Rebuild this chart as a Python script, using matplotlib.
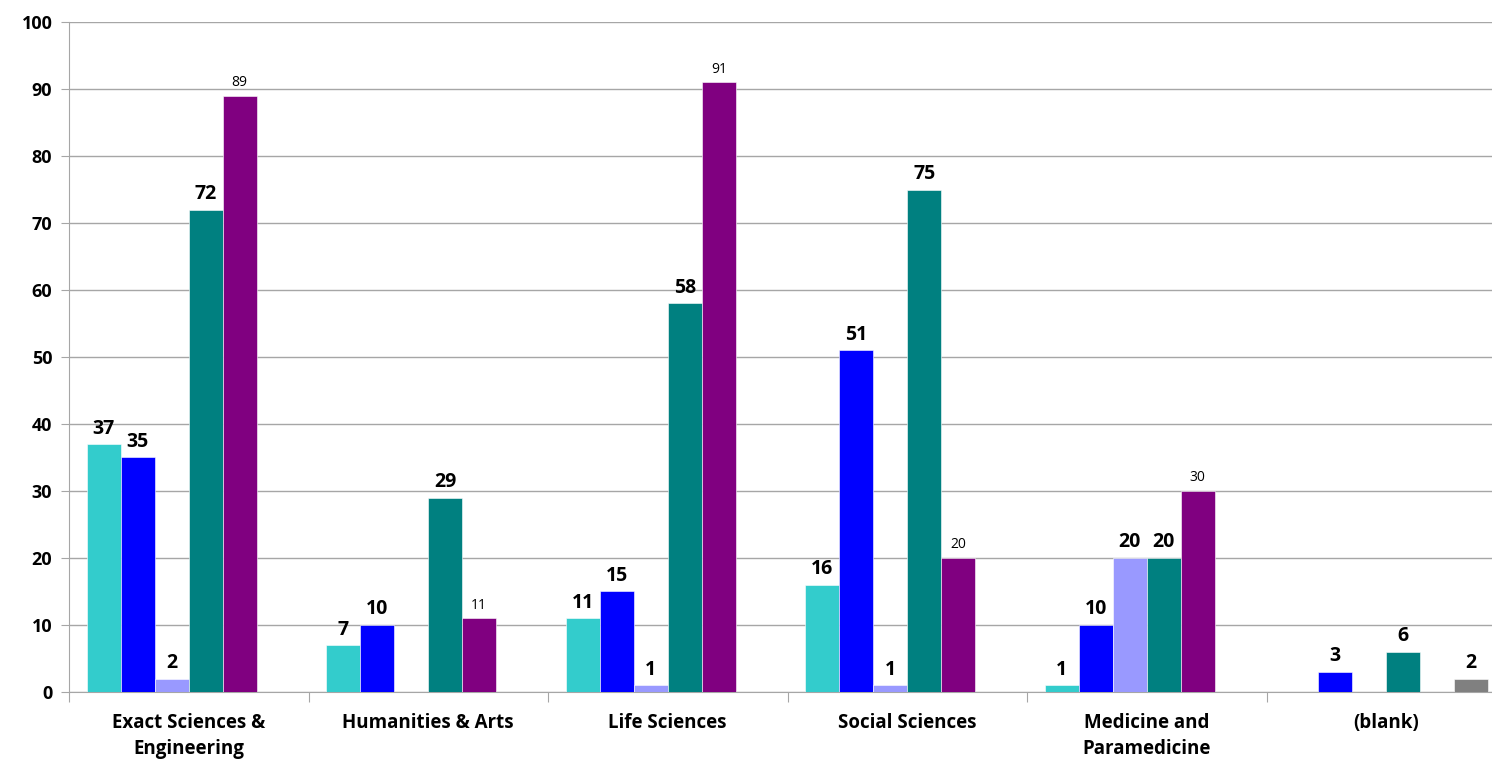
import numpy as np
import matplotlib
matplotlib.use("Agg")
import matplotlib.pyplot as plt

# Data
categories = [
    "Exact Sciences &\nEngineering",
    "Humanities & Arts",
    "Life Sciences",
    "Social Sciences",
    "Medicine and\nParamedicine",
    "(blank)",
]
series_names = ["Series 1", "Series 2", "Series 3", "Series 4", "Series 5", "Series 6"]
series_1 = [37, 7, 11, 16, 1, None]
series_2 = [35, 10, 15, 51, 10, 3]
series_3 = [2, None, 1, 1, 20, None]
series_4 = [72, 29, 58, 75, 20, 6]
series_5 = [89, 11, 91, 20, 30, None]
series_6 = [None, None, None, None, None, 2]
y_ticks = [0, 10, 20, 30, 40, 50, 60, 70, 80, 90, 100]

all_series = [series_1, series_2, series_3, series_4, series_5, series_6]
colors = ["#33CCCC", "#0000FF", "#9999FF", "#008080", "#800080", "#808080"]
# purple series uses small, regular-weight labels
bold_label = dict(fontsize=14, fontweight="bold")
label_styles = [bold_label, bold_label, bold_label, bold_label,
                dict(fontsize=10, fontweight="normal"), bold_label]

plt.rcParams["font.family"] = ["Open Sans", "DejaVu Sans"]

fig = plt.figure(figsize=(14.92, 7.59), dpi=100)
# plot area runs slightly past the right edge of the figure
ax = fig.add_axes([69 / 1492, 0.0883, 1437 / 1492, 0.8827])

x = np.arange(len(categories))
width = 34 / 239.5

for j, (vals, color, style) in enumerate(zip(all_series, colors, label_styles)):
    offset = (j - 2.5) * width
    for i, v in enumerate(vals):
        if v is None:
            continue
        ax.bar(x[i] + offset, v, width, color=color, edgecolor="white",
               linewidth=0.4, zorder=3)
        ax.annotate(str(v), (x[i] + offset, v), xytext=(0, 4),
                    textcoords="offset points", ha="center", va="bottom",
                    color="black", **style)

ax.set_xlim(-0.5, len(categories) - 0.5)
ax.set_ylim(0, 100)
ax.set_yticks(y_ticks)
ax.set_yticklabels([str(t) for t in y_ticks], fontsize=13, fontweight="bold")
ax.yaxis.grid(True, color="#A6A6A6", linewidth=1, zorder=0)
ax.set_axisbelow(True)

# category labels centered, tick marks between categories
ax.set_xticks(np.arange(-0.5, len(categories) + 0.5, 1))
ax.set_xticklabels([])
ax.set_xticks(x, minor=True)
ax.set_xticklabels(categories, minor=True, fontsize=13.5, fontweight="bold",
                   linespacing=1.4)
ax.tick_params(axis="x", which="minor", length=0, pad=15)
ax.tick_params(axis="x", which="major", length=7, color="#A6A6A6")
ax.tick_params(axis="y", length=6, color="#A6A6A6", pad=6)

for side in ["top", "right"]:
    ax.spines[side].set_visible(False)
for side in ["left", "bottom"]:
    ax.spines[side].set_color("#A6A6A6")

fig.savefig("out.png", dpi=100)
